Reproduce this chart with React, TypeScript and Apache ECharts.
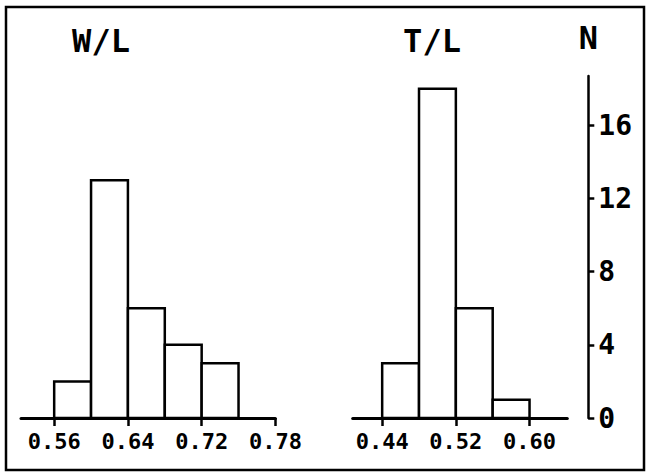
import React, { useEffect, useRef } from "react";
import * as echarts from "echarts";

const BIN_WIDTH = 0.04;
const WL_BIN_STARTS = [0.56, 0.6, 0.64, 0.68, 0.72];
const WL_COUNTS = [2, 13, 6, 4, 3];
const TL_BIN_STARTS = [0.44, 0.48, 0.52, 0.56];
const TL_COUNTS = [3, 18, 6, 1];
const WL_TICK_VALUES = [0.56, 0.64, 0.72, 0.8];
const WL_TICK_LABELS = ["0.56", "0.64", "0.72", "0.78"];
const TL_TICK_VALUES = [0.44, 0.52, 0.6];
const TL_TICK_LABELS = ["0.44", "0.52", "0.60"];
const N_TICKS = [0, 4, 8, 12, 16];

const FONT_MONO = "DejaVu Sans Mono";

export default function App() {
  const ref = useRef<HTMLDivElement>(null);
  useEffect(() => {
    const chart = echarts.init(ref.current!, null, { renderer: "svg" });
    const histItem = (starts: number[], counts: number[]) => (params: any, api: any) => {
      const i = params.dataIndex;
      const p0 = api.coord([starts[i], counts[i]]);
      const p1 = api.coord([starts[i] + BIN_WIDTH, 0]);
      return {
        type: "rect",
        shape: { x: p0[0], y: p0[1], width: p1[0] - p0[0], height: p1[1] - p0[1] },
        style: { fill: "#ffffff", stroke: "#000000", lineWidth: 2.5 },
      };
    };
    const xAxisBase = (min: number, max: number, ticks: number[], labels: string[], gi: number) => ({
      type: "value",
      gridIndex: gi,
      min,
      max,
      splitLine: { show: false },
      axisLine: { show: true, lineStyle: { color: "#000", width: 3 } },
      axisTick: { show: true, customValues: ticks, length: 8, lineStyle: { color: "#000", width: 2.5 } },
      axisLabel: {
        customValues: ticks,
        showMaxLabel: true,
        showMinLabel: true,
        formatter: (v: number) => {
          const idx = ticks.findIndex((t) => Math.abs(t - v) < 1e-6);
          return idx >= 0 ? labels[idx] : "";
        },
        color: "#000",
        fontFamily: FONT_MONO,
        fontWeight: "bold",
        fontSize: 22,
        margin: 12,
      },
    });
    chart.setOption({
      animation: false,
      backgroundColor: "#ffffff",
      grid: [
        { left: 21, right: 647 - 275.4, top: 76, bottom: 55 },
        { left: 352.7, right: 647 - 567.3, top: 76, bottom: 55 },
      ],
      xAxis: [
        xAxisBase(0.524, 0.8, WL_TICK_VALUES, WL_TICK_LABELS, 0),
        xAxisBase(0.408, 0.641, TL_TICK_VALUES, TL_TICK_LABELS, 1),
      ],
      yAxis: [
        { type: "value", gridIndex: 0, min: 0, max: 18.7, show: false, splitLine: { show: false } },
        {
          type: "value",
          gridIndex: 1,
          min: 0,
          max: 18.7,
          position: "right",
          offset: 21,
          name: "N",
          nameLocation: "end",
          nameGap: 22,
          nameTextStyle: { color: "#000", fontFamily: FONT_MONO, fontWeight: "bold", fontSize: 32, align: "center" },
          splitLine: { show: false },
          axisLine: { show: true, lineStyle: { color: "#000", width: 2.5 } },
          axisTick: { show: true, customValues: N_TICKS, length: 6, lineStyle: { color: "#000", width: 2.5 } },
          axisLabel: {
            customValues: N_TICKS,
            color: "#000",
            fontFamily: FONT_MONO,
            fontWeight: "bold",
            fontSize: 28,
            margin: 10,
          },
        },
      ],
      graphic: [
        {
          type: "rect",
          shape: { x: 6, y: 7, width: 638, height: 463 },
          style: { fill: "none", stroke: "#000", lineWidth: 2.5 },
        },
        {
          type: "text",
          x: 101,
          y: 41,
          style: { text: "W/L", font: `bold 32px '${FONT_MONO}'`, fill: "#000", textAlign: "center", textVerticalAlign: "middle" },
        },
        {
          type: "text",
          x: 432,
          y: 41,
          style: { text: "T/L", font: `bold 32px '${FONT_MONO}'`, fill: "#000", textAlign: "center", textVerticalAlign: "middle" },
        },
      ],
      series: [
        {
          type: "custom",
          xAxisIndex: 0,
          yAxisIndex: 0,
          renderItem: histItem(WL_BIN_STARTS, WL_COUNTS),
          data: WL_COUNTS.map((c, i) => [WL_BIN_STARTS[i], c]),
          z: 1,
        },
        {
          type: "custom",
          xAxisIndex: 1,
          yAxisIndex: 1,
          renderItem: histItem(TL_BIN_STARTS, TL_COUNTS),
          data: TL_COUNTS.map((c, i) => [TL_BIN_STARTS[i], c]),
          z: 1,
        },
      ],
    });
    return () => chart.dispose();
  }, []);
  return (
    <div
      ref={ref}
      style={{ position: "fixed", left: 0, top: 0, width: 647, height: 473, background: "#fff" }}
    />
  );
}
